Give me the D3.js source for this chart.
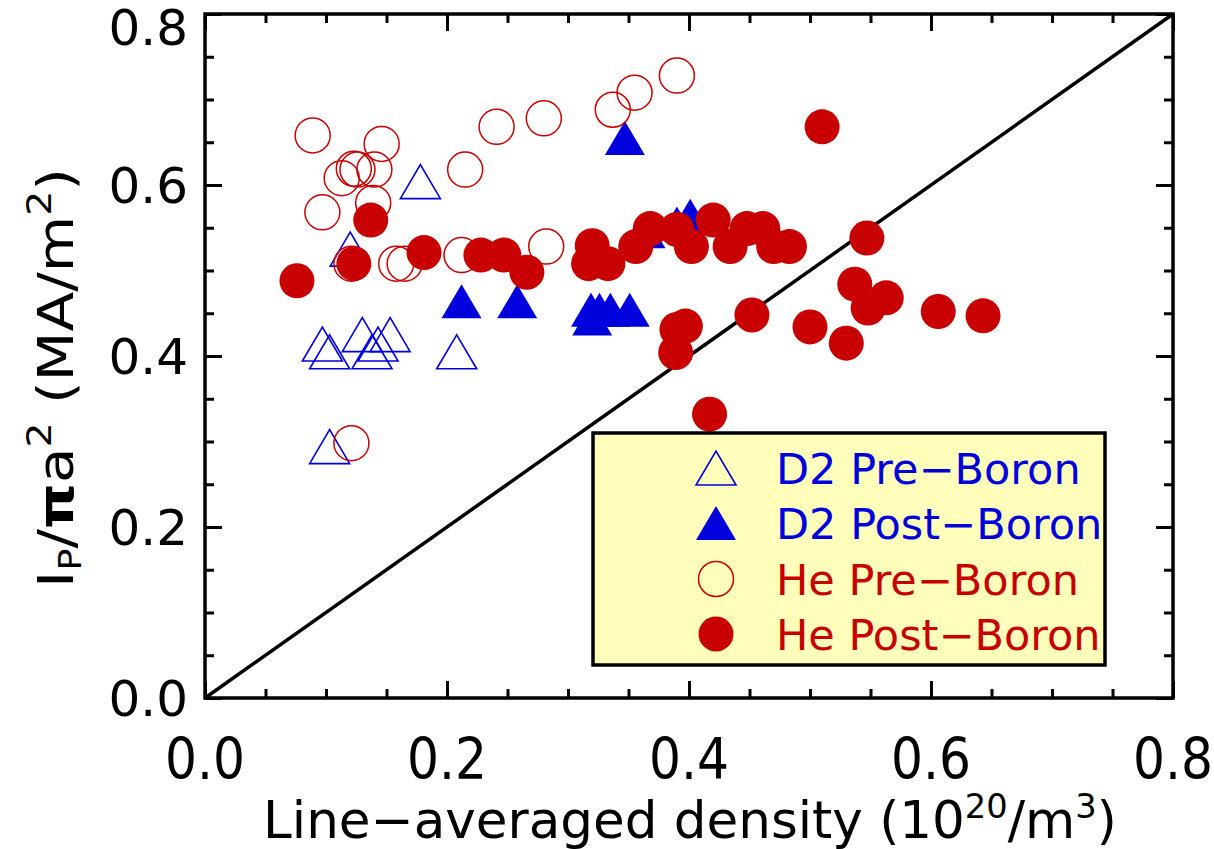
<!DOCTYPE html>
<html>
<head>
<meta charset="utf-8">
<script src="https://cdn.jsdelivr.net/npm/d3@7"></script>
<style>
  body { margin: 0; background: #fff; }
  svg { display: block; }
</style>
</head>
<body>
<svg id="chart" width="1214" height="849"></svg>
<script>
/* ── data ────────────────────────────────────────────── */

// [density, Ip/pi a^2]
const d2Pre = [
  [0.178, 0.604], [0.120, 0.525], [0.097, 0.414], [0.103, 0.405],
  [0.130, 0.425], [0.138, 0.405], [0.143, 0.414], [0.153, 0.425],
  [0.208, 0.405], [0.103, 0.294]
];

const d2Post = [
  [0.212, 0.464], [0.258, 0.464], [0.319, 0.454], [0.326, 0.454],
  [0.335, 0.454], [0.351, 0.454], [0.320, 0.444], [0.347, 0.655],
  [0.390, 0.555], [0.401, 0.564], [0.364, 0.546]
];

const hePre = [
  [0.089, 0.658], [0.097, 0.568], [0.113, 0.608], [0.123, 0.619],
  [0.126, 0.618], [0.140, 0.618], [0.146, 0.648], [0.139, 0.579],
  [0.215, 0.618], [0.241, 0.668], [0.280, 0.678], [0.337, 0.688],
  [0.355, 0.708], [0.390, 0.728], [0.212, 0.518], [0.282, 0.528],
  [0.158, 0.508], [0.165, 0.508], [0.121, 0.508], [0.121, 0.298]
];

const hePost = [
  [0.076, 0.488], [0.137, 0.559], [0.123, 0.508], [0.181, 0.521],
  [0.228, 0.518], [0.247, 0.518], [0.266, 0.498], [0.320, 0.529],
  [0.317, 0.508], [0.333, 0.508], [0.356, 0.528], [0.368, 0.549],
  [0.390, 0.548], [0.402, 0.528], [0.420, 0.559], [0.434, 0.528],
  [0.448, 0.549], [0.461, 0.549], [0.470, 0.528], [0.483, 0.528],
  [0.510, 0.668], [0.547, 0.538], [0.537, 0.484], [0.563, 0.468],
  [0.548, 0.456], [0.606, 0.452], [0.643, 0.447], [0.452, 0.448],
  [0.500, 0.434], [0.530, 0.415], [0.390, 0.431], [0.397, 0.435],
  [0.389, 0.404], [0.417, 0.332]
];

const majorTicks = [0.0, 0.2, 0.4, 0.6, 0.8];
const tickLabels = ['0.0', '0.2', '0.4', '0.6', '0.8'];
const legendLabels = ['D2 Pre\u2212Boron', 'D2 Post\u2212Boron', 'He Pre\u2212Boron', 'He Post\u2212Boron'];

/* ── setup ───────────────────────────────────────────── */

const BLUE = '#0000dd';
const RED  = '#c80000';

const L = 205, R = 1173, T = 14, B = 698;

const x = d3.scaleLinear().domain([0, 0.8]).range([L, R]);
const y = d3.scaleLinear().domain([0, 0.8]).range([B, T]);

const svg = d3.select('#chart');
svg.append('rect').attr('width', 1214).attr('height', 849).attr('fill', '#fff');

// triangle with its bounding box centred on the point
function triPath(cx, cy, w = 20, h = 17) {
  const p = d3.path();
  p.moveTo(cx - w, cy + h);
  p.lineTo(cx + w, cy + h);
  p.lineTo(cx, cy - h);
  p.closePath();
  return p.toString();
}

// squeeze/stretch a text element along its own line to a given length
function fitWidth(sel, target) {
  const w = sel.node().getBBox().width;
  const k = target / w;
  const t = sel.attr('transform') || '';
  sel.attr('transform', t + ` scale(${k},1)`);
}

/* ── diagonal ────────────────────────────────────────── */

svg.append('line')
  .attr('x1', x(0)).attr('y1', y(0))
  .attr('x2', x(0.8)).attr('y2', y(0.8))
  .attr('stroke', '#000').attr('stroke-width', 3.5);

/* ── points ──────────────────────────────────────────── */

svg.append('g').selectAll('path')
  .data(d2Pre).join('path')
  .attr('d', d => triPath(x(d[0]), y(d[1])))
  .attr('fill', 'none').attr('stroke', BLUE).attr('stroke-width', 1.6);

svg.append('g').selectAll('path')
  .data(d2Post).join('path')
  .attr('d', d => triPath(x(d[0]), y(d[1])))
  .attr('fill', BLUE);

svg.append('g').selectAll('circle')
  .data(hePre).join('circle')
  .attr('cx', d => x(d[0])).attr('cy', d => y(d[1]))
  .attr('r', 17.5)
  .attr('fill', 'none').attr('stroke', RED).attr('stroke-width', 1.5);

svg.append('g').selectAll('circle')
  .data(hePost).join('circle')
  .attr('cx', d => x(d[0])).attr('cy', d => y(d[1]))
  .attr('r', 17.5)
  .attr('fill', RED);

/* ── axes: inward ticks on all four sides ────────────── */

const minorTicks = d3.range(0, 0.8001, 0.05);

function drawAxis(axisFn, tx, ty, scale, values, size) {
  const g = svg.append('g')
    .attr('transform', `translate(${tx},${ty})`)
    .call(axisFn(scale).tickValues(values).tickSize(-size).tickFormat(''));
  g.select('.domain').remove();
  g.selectAll('line').attr('stroke', '#000').attr('stroke-width', 3);
}

drawAxis(d3.axisBottom, 0, B, x, minorTicks, 9);
drawAxis(d3.axisTop,    0, T, x, minorTicks, 9);
drawAxis(d3.axisLeft,   L, 0, y, minorTicks, 9);
drawAxis(d3.axisRight,  R, 0, y, minorTicks, 9);
drawAxis(d3.axisBottom, 0, B, x, majorTicks, 17);
drawAxis(d3.axisTop,    0, T, x, majorTicks, 17);
drawAxis(d3.axisLeft,   L, 0, y, majorTicks, 17);
drawAxis(d3.axisRight,  R, 0, y, majorTicks, 17);

svg.append('rect')
  .attr('x', L).attr('y', T)
  .attr('width', R - L).attr('height', B - T)
  .attr('fill', 'none').attr('stroke', '#000').attr('stroke-width', 3.5);

/* ── tick labels ─────────────────────────────────────── */

majorTicks.forEach((v, i) => {
  // y labels: wide round digits; the top one is kept inside the page
  const ly = Math.max(y(v) + 18, 45);
  svg.append('text')
    .attr('x', L - 17).attr('y', ly)
    .attr('text-anchor', 'end')
    .attr('font-family', 'DejaVu Sans').attr('font-size', 50)
    .attr('fill', '#000')
    .text(tickLabels[i]);

  // x labels: taller, slightly narrowed digits
  const t = svg.append('text')
    .attr('transform', `translate(${x(v)},779)`)
    .attr('text-anchor', 'middle')
    .attr('font-family', 'DejaVu Sans').attr('font-size', 57)
    .attr('fill', '#000')
    .text(tickLabels[i]);
  fitWidth(t, 80);
});

/* ── axis titles ─────────────────────────────────────── */

const xt = svg.append('text')
  .attr('transform', 'translate(690,838)')
  .attr('text-anchor', 'middle')
  .attr('font-family', 'DejaVu Sans').attr('font-size', 52)
  .attr('fill', '#000');
xt.append('tspan').text('Line\u2212averaged density (10');
xt.append('tspan').attr('font-size', 34).attr('dy', -20).text('20');
xt.append('tspan').attr('dy', 20).text('/m');
xt.append('tspan').attr('font-size', 34).attr('dy', -20).text('3');
xt.append('tspan').attr('dy', 20).text(')');
fitWidth(xt, 854);

const yt = svg.append('text')
  .attr('transform', 'translate(73,378) rotate(-90)')
  .attr('text-anchor', 'middle')
  .attr('font-family', 'DejaVu Sans').attr('font-size', 50)
  .attr('fill', '#000');
yt.append('tspan').text('I');
yt.append('tspan').attr('font-size', 32).attr('dy', 8).text('P');
yt.append('tspan').attr('dy', -8).text('/');
yt.append('tspan').attr('font-weight', 'bold').text('\u03c0');
yt.append('tspan').text('a');
yt.append('tspan').attr('font-size', 34).attr('dy', -22).text('2');
yt.append('tspan').attr('dy', 22).text(' (MA/m');
yt.append('tspan').attr('font-size', 34).attr('dy', -22).text('2');
yt.append('tspan').attr('dy', 22).text(')');
fitWidth(yt, 420);

/* ── legend ──────────────────────────────────────────── */

const lg = svg.append('g');
lg.append('rect')
  .attr('x', 593).attr('y', 433)
  .attr('width', 512).attr('height', 232)
  .attr('fill', '#ffffbb').attr('stroke', '#000').attr('stroke-width', 3.5);

const legendY = [468, 523, 579, 634];
const legendColors = [BLUE, BLUE, RED, RED];
const symX = 716;

lg.append('path').attr('d', triPath(symX, legendY[0]))
  .attr('fill', 'none').attr('stroke', BLUE).attr('stroke-width', 1.6);
lg.append('path').attr('d', triPath(symX, legendY[1]))
  .attr('fill', BLUE);
lg.append('circle').attr('cx', symX).attr('cy', legendY[2]).attr('r', 17.5)
  .attr('fill', 'none').attr('stroke', RED).attr('stroke-width', 1.5);
lg.append('circle').attr('cx', symX).attr('cy', legendY[3]).attr('r', 17.5)
  .attr('fill', RED);

legendLabels.forEach((s, i) => {
  lg.append('text')
    .attr('x', 776).attr('y', legendY[i] + 16)
    .attr('font-family', 'DejaVu Sans').attr('font-size', 43)
    .attr('fill', legendColors[i])
    .text(s);
});
</script>
</body>
</html>
